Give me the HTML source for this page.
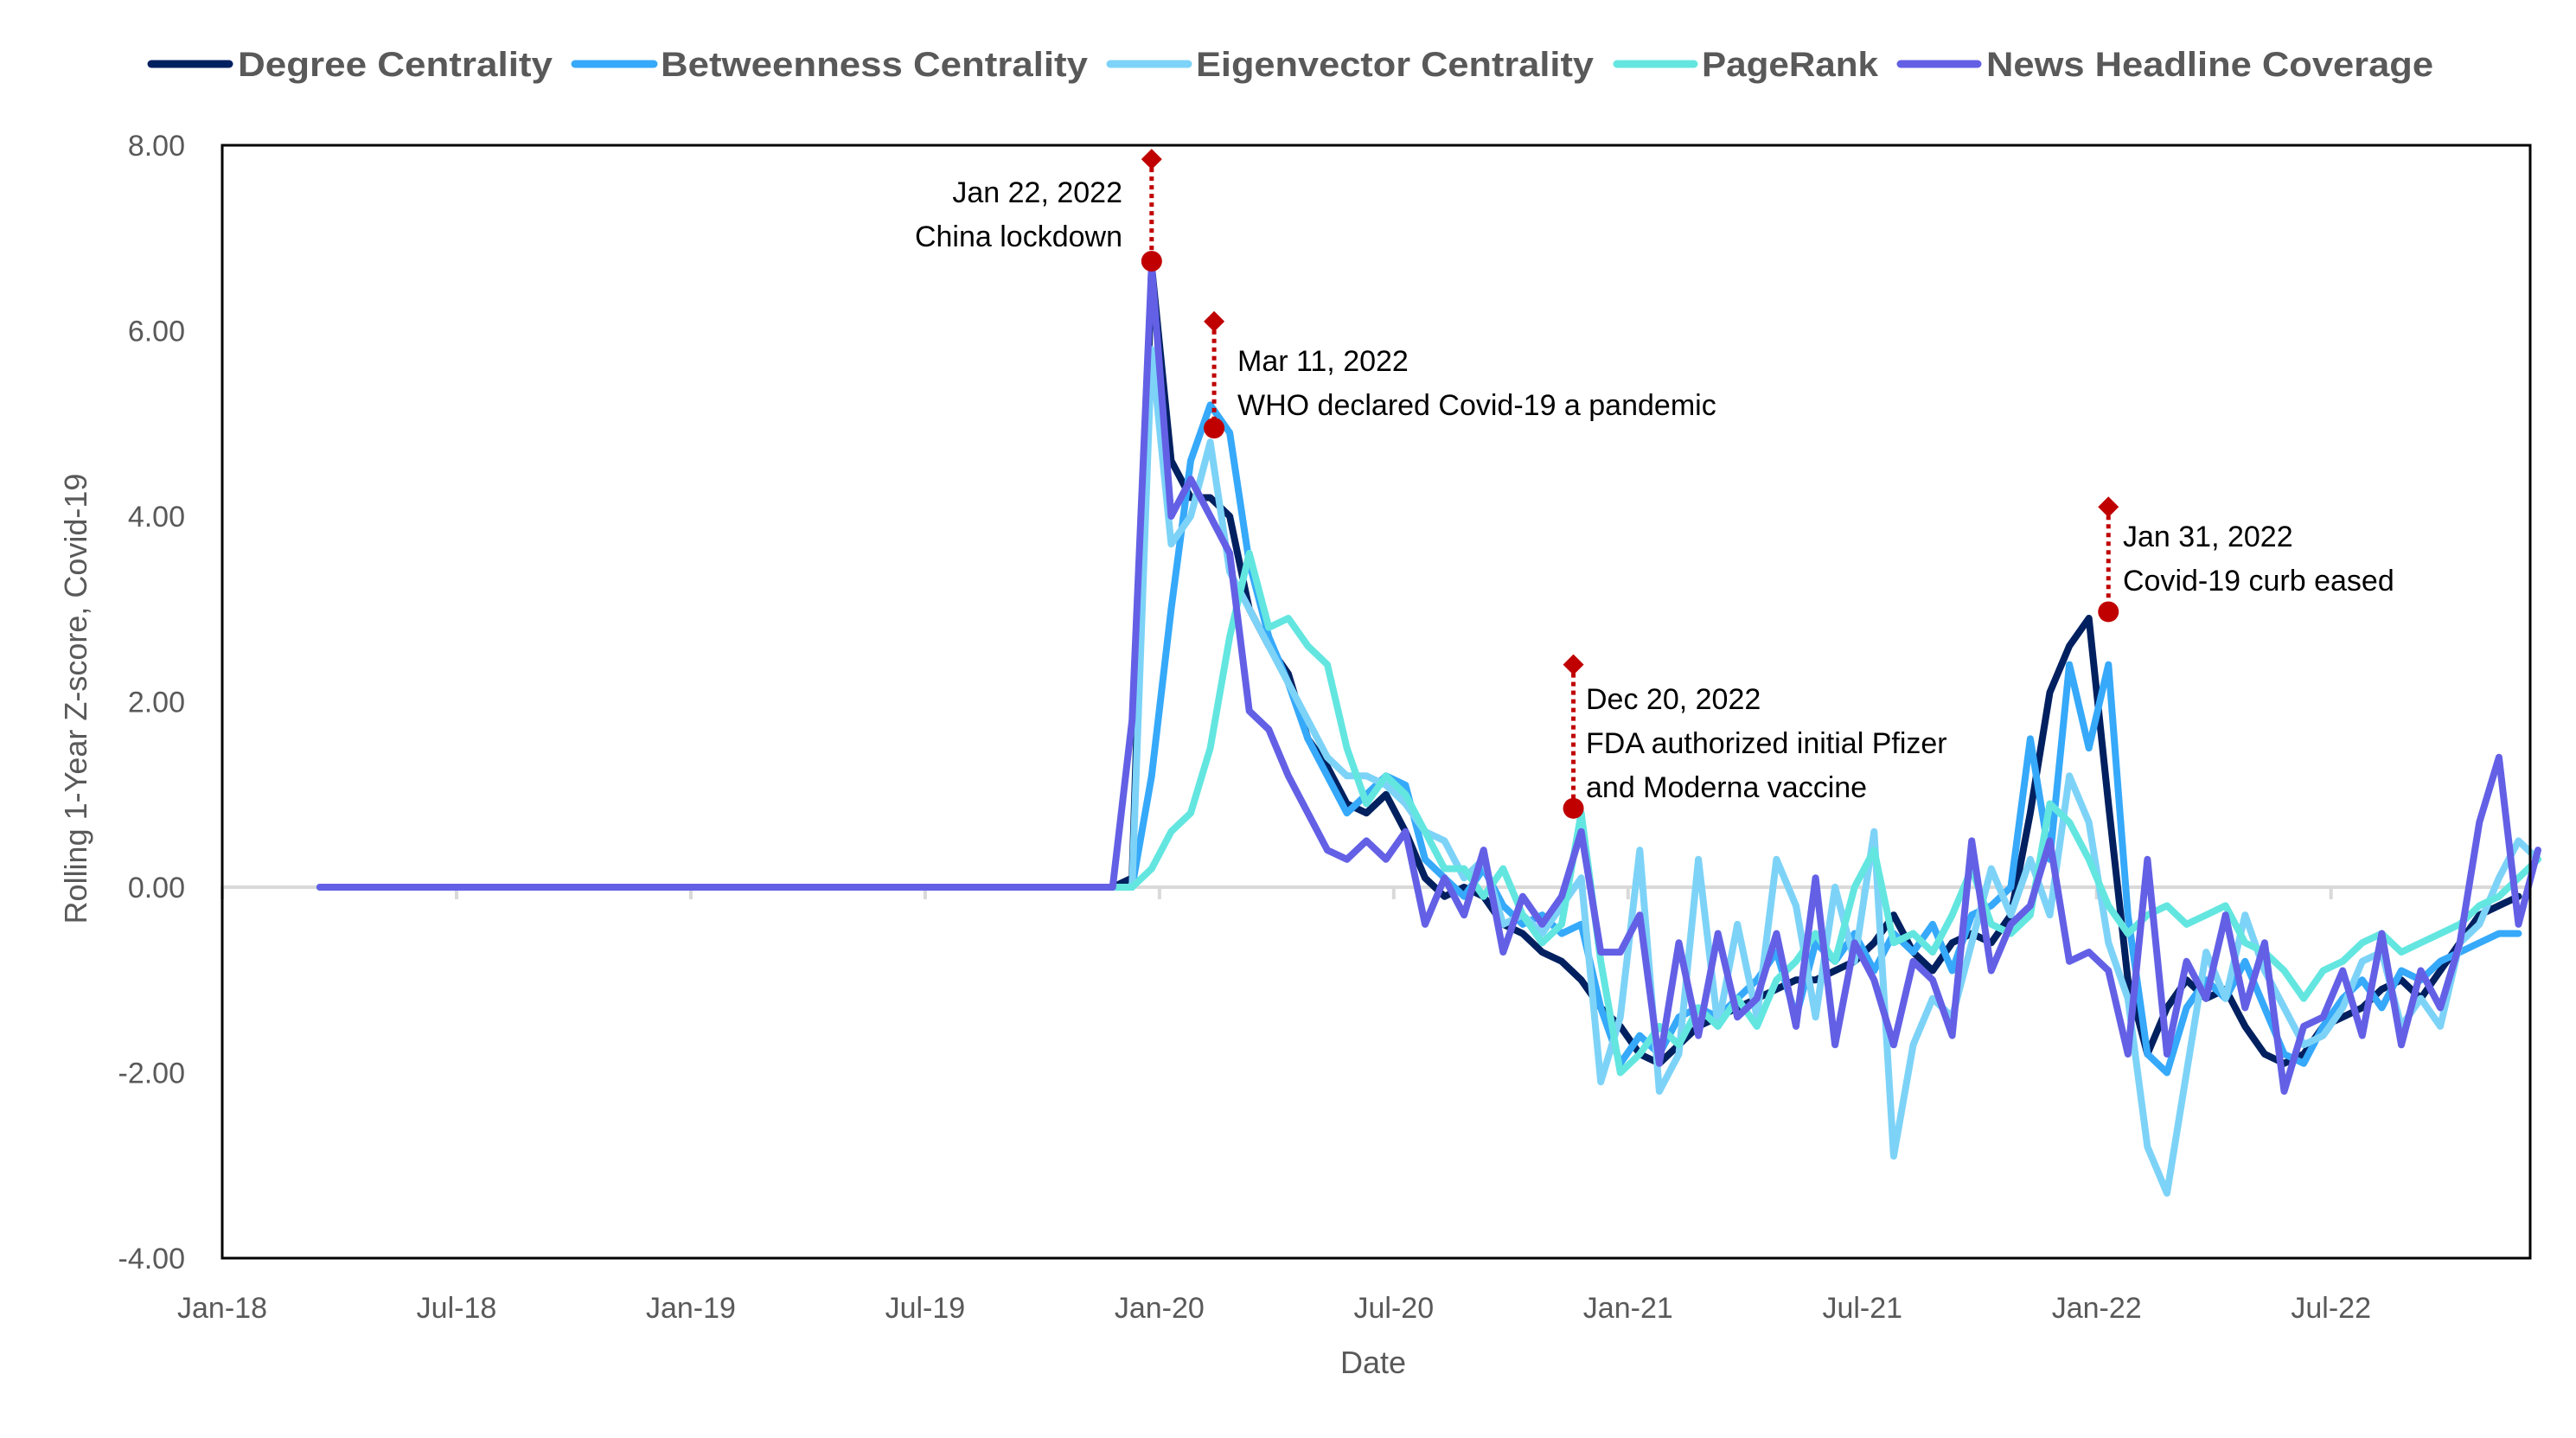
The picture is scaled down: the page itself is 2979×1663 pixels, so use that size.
<!DOCTYPE html>
<html><head><meta charset="utf-8"><style>
html,body{margin:0;padding:0;background:#fff;}
svg{display:block;}
</style></head><body>
<svg id="chart" width="2979" height="1663" viewBox="0 0 2979 1663" xmlns="http://www.w3.org/2000/svg" font-family="'Liberation Sans', sans-serif"></svg>
<script>
// ---- data ----
const seriesNames = ["Degree Centrality","Betweenness Centrality","Eigenvector Centrality","PageRank","News Headline Coverage"];
const seriesColors = ["#002060","#36A9FA","#7DD3F7","#63E6E0","#6360E6"];
const flatStartMonth = 2.5;
const dataStartMonth = 22.8;
const stepMonths = 0.5;
const degree = [0,
0,0.1,6.7,4.6,4.2,4.2,4.0,3.0,2.6,2.3,1.6,1.3,0.9,0.8,1.0,0.6,0.1,-0.1,0.0,-0.1,-0.4,-0.5,-0.7,-0.8,-1.0,-1.3,-1.5,-1.8,-1.9,-1.7,-1.5,-1.4,-1.3,-1.2,-1.1,-1.0,-1.0,-0.9,-0.8,-0.6,-0.3,-0.7,-0.9,-0.6,-0.5,-0.6,-0.3,0.8,2.1,2.6,2.9,0.9,-1.0,-1.8,-1.3,-1.0,-1.2,-1.1,-1.5,-1.8,-1.9,-1.8,-1.5,-1.4,-1.3,-1.1,-1.0,-1.2,-0.9,-0.6,-0.3,-0.2,-0.1];
const betweenness = [0,
0,0,1.2,3.0,4.6,5.2,4.9,3.5,2.7,2.2,1.6,1.2,0.8,1.0,1.2,1.1,0.3,0.1,-0.1,0.2,-0.2,-0.4,-0.3,-0.5,-0.4,-1.3,-1.9,-1.6,-1.8,-1.4,-1.3,-1.4,-1.2,-1.0,-0.7,-1.4,-0.6,-0.8,-0.5,-0.9,-0.5,-0.7,-0.4,-0.9,-0.3,-0.2,0.0,1.6,0.3,2.4,1.5,2.4,-0.3,-1.8,-2.0,-1.3,-1.0,-1.2,-0.8,-1.3,-1.8,-1.9,-1.5,-1.2,-1.0,-1.3,-0.9,-1.0,-0.8,-0.7,-0.6,-0.5,-0.5];
const eigenvector = [0,
0,0,5.8,3.7,4.0,4.8,3.4,3.0,2.6,2.2,1.8,1.4,1.2,1.2,1.1,0.9,0.6,0.5,0.1,0.3,-0.4,-0.3,-0.5,-0.2,0.1,-2.1,-1.4,0.4,-2.2,-1.8,0.3,-1.5,-0.4,-1.4,0.3,-0.2,-1.4,0.0,-0.8,0.6,-2.9,-1.7,-1.2,-1.4,-0.6,0.2,-0.3,0.3,-0.3,1.2,0.7,-0.6,-1.2,-2.8,-3.3,-2.0,-0.7,-1.2,-0.3,-0.9,-1.3,-1.7,-1.6,-1.3,-0.8,-0.7,-1.5,-1.2,-1.5,-0.6,-0.4,0.1,0.5,0.3];
const pagerank = [0,
0,0,0.2,0.6,0.8,1.5,2.7,3.6,2.8,2.9,2.6,2.4,1.5,0.9,1.2,1.0,0.6,0.2,0.2,-0.1,0.2,-0.3,-0.6,-0.4,0.8,-0.8,-2.0,-1.8,-1.5,-1.7,-1.3,-1.5,-1.2,-1.5,-1.0,-0.8,-0.5,-0.8,0.0,0.4,-0.6,-0.5,-0.7,-0.3,0.2,-0.4,-0.5,-0.3,0.9,0.7,0.3,-0.2,-0.5,-0.3,-0.2,-0.4,-0.3,-0.2,-0.6,-0.7,-0.9,-1.2,-0.9,-0.8,-0.6,-0.5,-0.7,-0.6,-0.5,-0.4,-0.2,-0.1,0.1,0.3];
const news = [0,
0,1.8,6.7,4.0,4.4,4.0,3.6,1.9,1.7,1.2,0.8,0.4,0.3,0.5,0.3,0.6,-0.4,0.1,-0.3,0.4,-0.7,-0.1,-0.4,-0.1,0.6,-0.7,-0.7,-0.3,-1.9,-0.6,-1.6,-0.5,-1.4,-1.2,-0.5,-1.5,0.1,-1.7,-0.6,-1.0,-1.7,-0.8,-1.0,-1.6,0.5,-0.9,-0.4,-0.2,0.5,-0.8,-0.7,-0.9,-1.8,0.3,-1.8,-0.8,-1.2,-0.3,-1.3,-0.6,-2.2,-1.5,-1.4,-0.9,-1.6,-0.5,-1.7,-0.9,-1.3,-0.6,0.7,1.4,-0.4,0.4];
const yTicks = [8,6,4,2,0,-2,-4];
const xTickLabels = ["Jan-18","Jul-18","Jan-19","Jul-19","Jan-20","Jul-20","Jan-21","Jul-21","Jan-22","Jul-22"];
const xTickMonths = [0,6,12,18,24,30,36,42,48,54];
const eventLabels = [["Jan 22, 2022","China lockdown"],["Mar 11, 2022","WHO declared Covid-19 a pandemic"],["Dec 20, 2022","FDA authorized initial Pfizer","and Moderna vaccine"],["Jan 31, 2022","Covid-19 curb eased"]];
const eventMonths = [23.8,25.4,34.6,48.3];
const eventValues = [6.75,4.95,0.85,2.97];
const eventDiamondValues = [7.85,6.1,2.4,4.1];

// ---- layout ----
const PL=257, PR=2926, PT=168, PB=1455, MONTHS=59.1;
const X = m => PL + m*(PR-PL)/MONTHS;
const Y = v => PT + (8-v)*(PB-PT)/12;
const NS="http://www.w3.org/2000/svg";
const svg=document.getElementById('chart');
function mk(tag,attrs,parent){const e=document.createElementNS(NS,tag);for(const k in attrs)e.setAttribute(k,attrs[k]);(parent||svg).appendChild(e);return e;}

const zl=mk('line',{x1:PL,x2:PR,y1:Y(0),y2:Y(0),stroke:'#D9D9D9','stroke-width':4});


xTickMonths.forEach((m,i)=>{
  const t=mk('line',{x1:X(m),x2:X(m),y1:Y(0)-1,y2:Y(0)+14,stroke:'#D9D9D9','stroke-width':4});
  
  
  const lb=mk('text',{x:X(m),y:1524,'text-anchor':'middle','font-size':34,fill:'#595959'});
  lb.textContent=xTickLabels[i];
  
  
});
yTicks.forEach(v=>{
  const lb=mk('text',{x:214,y:Y(v)+12,'text-anchor':'end','font-size':34,fill:'#595959'});
  lb.textContent=v.toFixed(2);
  
  
});

const all=[degree,betweenness,eigenvector,pagerank,news];
all.forEach((arr,si)=>{
  const pts=arr.map((v,i)=>{const m = i===0?flatStartMonth:dataStartMonth+(i-1)*stepMonths;return X(m).toFixed(1)+','+Y(v).toFixed(1);});
  const p=mk('polyline',{points:pts.join(' '),fill:'none',stroke:seriesColors[si],'stroke-width':8,'stroke-linejoin':'round','stroke-linecap':'round'});
  
  
});

const bd=mk('rect',{x:PL,y:PT,width:PR-PL,height:PB-PT,fill:'none',stroke:'#000','stroke-width':3});



const textPos=[{x:1298,a:'end',y:222},{x:1431,a:'start',y:417},{x:1834,a:'start',y:808},{x:2455,a:'start',y:620}];
eventMonths.forEach((m,i)=>{
  const cx=X(m), cy=Y(eventValues[i]), dy=Y(eventDiamondValues[i]);
  const ln=mk('line',{x1:cx,x2:cx,y1:dy,y2:cy,stroke:'#C00000','stroke-width':5,'stroke-dasharray':'5 5'});
  
  
  const dm=mk('polygon',{points:`${cx},${dy-12} ${cx+12},${dy} ${cx},${dy+12} ${cx-12},${dy}`,fill:'#C00000'});
  
  
  const c=mk('circle',{cx:cx,cy:cy,r:12,fill:'#C00000'});
  
  
  eventLabels[i].forEach((s,j)=>{
    const t=mk('text',{x:textPos[i].x,y:textPos[i].y+j*51+12,'text-anchor':textPos[i].a,'font-size':34,fill:'#000'});
    t.textContent=s;
    
    
  });
});

const legLine=[[175,265],[665,756],[1284,1374],[1870,1959],[2198,2287]];
const legText=[[275,364],[764,494],[1383,460],[1968,204],[2297,517]];
seriesNames.forEach((n,i)=>{
  const g=mk('g',{});
  
  
  mk('line',{x1:legLine[i][0],x2:legLine[i][1],y1:74,y2:74,stroke:seriesColors[i],'stroke-width':9,'stroke-linecap':'round'},g);
  const t=mk('text',{x:legText[i][0],y:88,'font-size':40,'font-weight':'bold',fill:'#595959',textLength:legText[i][1],lengthAdjust:'spacingAndGlyphs'},g);
  t.textContent=n;
});

const xt=mk('text',{x:1588,y:1588,'text-anchor':'middle','font-size':36,fill:'#595959'});
xt.textContent='Date';


const yt=mk('text',{x:0,y:0,'text-anchor':'middle','font-size':36,fill:'#595959',transform:'translate(100,808) rotate(-90)'});
yt.textContent='Rolling 1-Year Z-score, Covid-19';


</script>
</body></html>
